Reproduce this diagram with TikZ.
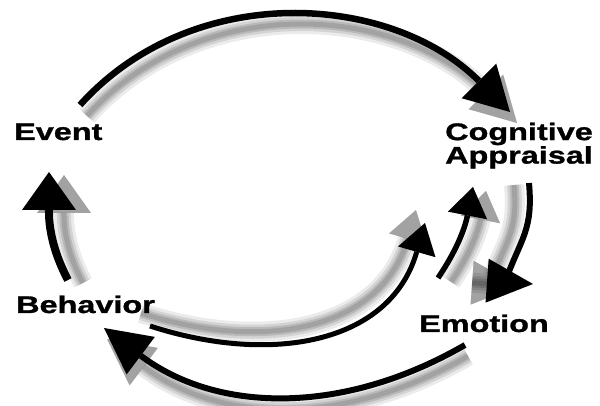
\documentclass[tikz,border=0pt]{standalone}
\usepackage{fontspec}
\newfontfamily\lblfont[FakeStretch=1.35,FakeBold=1.2]{Liberation Sans}
\usetikzlibrary{arrows.meta}

\tikzset{
  lbl/.style={font=\lblfont\bfseries\fontsize{24}{20}\selectfont, inner sep=0pt, align=left},
  conn/.style={draw=black, line width=#1, line join=round},
  ghost/.style={
    preaction={draw=black, opacity=.08, line width=20pt, transform canvas={shift={#1}}},
    preaction={draw=black, opacity=.1, line width=14pt, transform canvas={shift={#1}}},
    preaction={draw=black, opacity=.12, line width=9pt, transform canvas={shift={#1}}},
    preaction={draw=black, opacity=.12, line width=5pt, transform canvas={shift={#1}}}},
}

\begin{document}
\begin{tikzpicture}[x=1pt, y=1pt]
  \fill[white] (0,0) rectangle (600,406);
  \useasboundingbox (0,0) rectangle (600,406);
  % labels
  \node[lbl, anchor=base west] (event) at (14,266) {Event};
  \node[lbl, anchor=north west] (cogn) at (445,283.5) {Cognitive\\Appraisal};
  \node[lbl, anchor=base west] (behav) at (16,93) {Behavior};
  \node[lbl, anchor=base west] (emot) at (419,74) {Emotion};
  % arrow ends
  \coordinate (evOut) at (80,301);
  \coordinate (cogIn) at (510,294);
  \coordinate (cogOut) at (529,223);
  \coordinate (emBend) at (505,124);
  \coordinate (emIn) at (533,122);
  \coordinate (emOut) at (465,61);
  \coordinate (bhIn) at (104,78);
  \coordinate (bhOut) at (68,126);
  \coordinate (evIn) at (49,234);
  \coordinate (bhOut2) at (150,80);
  \coordinate (cogIn2) at (425,183);
  \coordinate (emOut2) at (438,128);
  \coordinate (cogIn3) at (473,219);
  % the cycle
  \draw[conn=6.5pt, ghost={(7pt,-11pt)}, -{Triangle[length=44pt,width=49pt,line width=0pt]}]
    (evOut) to[out=48,in=135] (cogIn);
  \draw[conn=6pt, ghost={(-15pt,-2pt)}, -{Triangle[length=46pt,width=44pt,line width=0pt]}]
    (cogOut) to[out=-85,in=70,looseness=1.2] (emBend) -- (emIn);
  \draw[conn=6pt, ghost={(3pt,-11pt)}, -{Triangle[length=46pt,width=47pt,line width=0pt]}]
    (emOut) to[out=210,in=-37] (bhIn);
  \draw[conn=8pt, ghost={(15pt,-3pt)}, -{Triangle[length=38pt,width=54pt,line width=0pt]}]
    (bhOut) to[out=118,in=-90] (evIn);
  % short cuts back to the appraisal
  \draw[conn=5pt, ghost={(-9pt,13pt)}, -{Triangle[length=30pt,width=39pt,line width=0pt]}]
    (bhOut2) to[out=-18,in=-106,looseness=1.1] (cogIn2);
  \draw[conn=5.5pt, ghost={(13pt,-4pt)}, -{Triangle[length=29pt,width=40pt,line width=0pt]}]
    (emOut2) to[out=56,in=-101] (cogIn3);
\end{tikzpicture}
\end{document}
